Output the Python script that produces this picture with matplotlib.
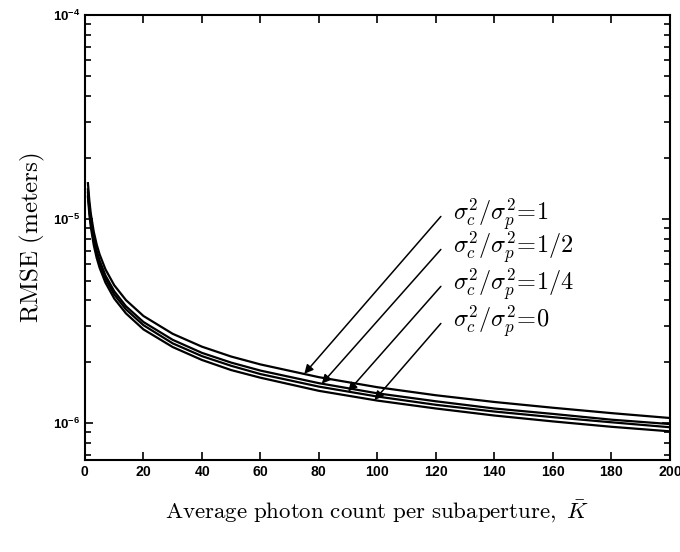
import matplotlib
matplotlib.use("Agg")
import matplotlib.pyplot as plt
import numpy as np
from matplotlib.ticker import FixedLocator, FixedFormatter, LogLocator, NullFormatter

# fuentes: etiquetas de ticks en sans negrita, textos en estilo LaTeX
plt.rcParams['mathtext.fontset'] = 'custom'
plt.rcParams['mathtext.rm'] = 'Liberation Sans:bold'
plt.rcParams['mathtext.it'] = 'Liberation Sans:bold:italic'
plt.rcParams['mathtext.bf'] = 'Liberation Sans:bold'

# datos (RMSE en micrometros)
K = [1, 1.5, 2, 3, 4, 5, 7, 10, 14, 20, 30, 40, 50, 60, 80, 100, 120, 140, 160, 180, 200]
rmse_1 = [15.0, 12.25, 10.6, 8.66, 7.5, 6.71, 5.67, 4.74, 4.01, 3.35, 2.74, 2.37, 2.12, 1.94,
          1.68, 1.50, 1.37, 1.27, 1.19, 1.12, 1.06]
rmse_12 = [14.0, 11.4, 9.9, 8.08, 7.0, 6.26, 5.29, 4.43, 3.74, 3.13, 2.56, 2.21, 1.98, 1.81,
           1.57, 1.40, 1.28, 1.18, 1.11, 1.04, 0.99]
rmse_14 = [13.5, 11.0, 9.55, 7.79, 6.75, 6.04, 5.10, 4.27, 3.61, 3.02, 2.46, 2.13, 1.91, 1.74,
           1.51, 1.35, 1.23, 1.14, 1.07, 1.01, 0.955]
rmse_0 = [12.9, 10.5, 9.12, 7.45, 6.45, 5.77, 4.88, 4.08, 3.45, 2.88, 2.36, 2.04, 1.82, 1.67,
          1.44, 1.29, 1.18, 1.09, 1.02, 0.96, 0.912]

curvas = [rmse_1, rmse_12, rmse_14, rmse_0]
etiquetas = [r'$\sigma_c^2/\sigma_p^2\!=\!1$', r'$\sigma_c^2/\sigma_p^2\!=\!1/2$',
             r'$\sigma_c^2/\sigma_p^2\!=\!1/4$', r'$\sigma_c^2/\sigma_p^2\!=\!0$']
K_flecha = [75, 81, 90, 99]               # donde apunta cada flecha
y_texto = [10.3, 7.1, 4.68, 3.08]         # altura (um) del inicio de cada flecha

ytick_val = [1e-6, 1e-5, 1e-4]
ytick_lab = [r'$10^{-6}$', r'$10^{-5}$', r'$10^{-4}$']
xtick_val = [0, 20, 40, 60, 80, 100, 120, 140, 160, 180, 200]

fig = plt.figure(figsize=(6.8, 5.52), dpi=100)
ax = fig.add_axes([0.125, 0.1667, 0.86, 0.8061])

for c in curvas:
    ax.semilogy(K, np.array(c) * 1e-6, color='black', lw=1.6)

# flechas y textos
for i in range(4):
    yk = np.interp(K_flecha[i], K, curvas[i]) * 1e-6
    ax.annotate('', xy=(K_flecha[i], yk), xytext=(121.7, y_texto[i] * 1e-6),
                arrowprops=dict(arrowstyle='-|>', color='black', lw=1.1, mutation_scale=13,
                                shrinkA=0, shrinkB=0))
    ax.text(126, y_texto[i] * 1e-6 * 1.02, etiquetas[i], fontsize=17.5, math_fontfamily='cm',
            va='center', ha='left')

ax.set_xlim(0, 200)
ax.set_ylim(6.6e-7, 1e-4)
ax.xaxis.set_major_locator(FixedLocator(xtick_val))
ax.set_xticklabels([r'$%d$' % v for v in xtick_val], fontsize=10)
ax.yaxis.set_major_locator(FixedLocator(ytick_val))
ax.yaxis.set_major_formatter(FixedFormatter(ytick_lab))
ax.yaxis.set_minor_locator(LogLocator(base=10, subs=np.arange(2, 10)))
ax.yaxis.set_minor_formatter(NullFormatter())
ax.tick_params(axis='both', which='both', direction='in', top=True, right=True, width=1.2)
ax.tick_params(axis='both', which='major', length=6, labelsize=10)
ax.tick_params(axis='y', which='major', labelsize=9.5)
ax.tick_params(axis='both', which='minor', length=4)
for s in ax.spines.values():
    s.set_linewidth(1.5)

ax.set_ylabel(r'$\mathrm{RMSE\ (meters)}$', fontsize=18, math_fontfamily='cm', labelpad=4)
ax.set_xlabel(r'$\mathrm{Average\ photon\ count\ per\ subaperture,}\ \bar{K}$', fontsize=16.5,
              math_fontfamily='cm', labelpad=14)

plt.savefig('out.png', dpi=100)
